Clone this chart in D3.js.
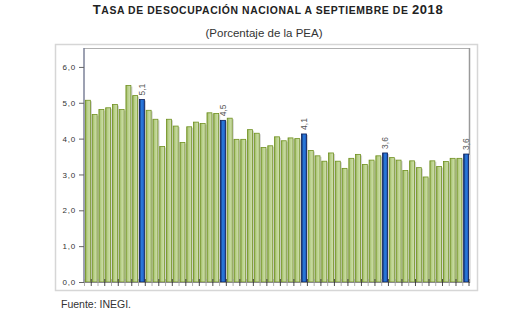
<!DOCTYPE html>
<html><head><meta charset="utf-8">
<script src="https://cdn.jsdelivr.net/npm/d3@7"></script>
<style>body{margin:0;background:#fff}svg{display:block}</style>
</head><body>
<svg id="c" width="512" height="324"></svg>
<script>
const monthNames = ["ene","feb","mar","abr","may","jun","jul","ago","sep","oct","nov","dic"];
const years = ["14","15","16","17","18"];
const categories = [];
years.forEach(y => monthNames.forEach(m => categories.push(m + "-" + y)));
categories.splice(57);
const values = [5.07,4.67,4.81,4.86,4.95,4.81,5.48,5.20,5.09,4.79,4.54,
  3.78,4.54,4.35,3.89,4.33,4.46,4.42,4.72,4.70,4.51,
  4.57,3.98,3.98,4.25,4.15,3.75,3.80,4.05,3.94,4.02,4.00,4.13,
  3.67,3.52,3.37,3.60,3.37,3.17,3.45,3.56,3.28,3.40,3.52,3.60,
  3.47,3.40,3.11,3.38,3.19,2.93,3.38,3.22,3.36,3.45,3.45,3.57];
const yTicks = [0,1,2,3,4,5,6];
const highlightMonth = "sep";

const svg = d3.select("#c");
const defs = svg.append("defs");
const gG = defs.append("linearGradient").attr("id","gGreen");
[["0%","#8eab4c"],["35%","#b7cf87"],["100%","#d2e1b2"]].forEach(s=>gG.append("stop").attr("offset",s[0]).attr("stop-color",s[1]));
const gB = defs.append("linearGradient").attr("id","gBlue");
[["0%","#0c2b6c"],["45%","#2c7fe2"],["100%","#1b56b8"]].forEach(s=>gB.append("stop").attr("offset",s[0]).attr("stop-color",s[1]));

// outer box
svg.append("rect").attr("x",55.5).attr("y",44.5).attr("width",422).attr("height",246)
  .attr("fill","#fff").attr("stroke","#d6d6d6").attr("stroke-width",1.5);

const x = d3.scaleBand().domain(categories).range([85,469]).paddingInner(0.15).paddingOuter(0);
const y = d3.scaleLinear().domain([0,6.5]).range([282,49]);

// plot frame top/right
svg.append("line").attr("x1",84).attr("x2",470).attr("y1",48.5).attr("y2",48.5).attr("stroke","#b0b0b0").attr("stroke-width",1);
svg.append("line").attr("x1",469.5).attr("x2",469.5).attr("y1",48).attr("y2",283).attr("stroke","#9a9a9a").attr("stroke-width",1.5);

const isHi = c => c.startsWith(highlightMonth);

// shadows
svg.append("g").selectAll("rect").data(categories).join("rect")
  .attr("x",c=>x(c)+1.2).attr("y",(c,i)=>y(values[i])+1)
  .attr("width",x.bandwidth()).attr("height",(c,i)=>y(0)-y(values[i])-1)
  .attr("fill","#d4d4d4");

// bars
svg.append("g").selectAll("rect").data(categories).join("rect")
  .attr("x",c=>x(c)+0.4).attr("y",(c,i)=>y(values[i]))
  .attr("width",x.bandwidth()-0.8).attr("height",(c,i)=>y(0)-y(values[i]))
  .attr("fill",c=>isHi(c)?"url(#gBlue)":"url(#gGreen)")
  .attr("stroke",c=>isHi(c)?"#0a1f5a":"#6f901f").attr("stroke-width",0.8);

// value labels
svg.append("g").selectAll("text").data(categories.filter(isHi)).join("text")
  .attr("transform",c=>{const i=categories.indexOf(c);return `translate(${x(c)+x.bandwidth()/2+3},${y(values[i])-4}) rotate(-90)`;})
  .attr("font-family","Liberation Sans, Arial, sans-serif").attr("font-size",8.5).attr("fill","#555")
  .text(c=>values[categories.indexOf(c)].toFixed(1).replace(".",","));

// y axis
const yAxis = d3.axisLeft(y).tickValues(yTicks).tickSize(5).tickPadding(3)
  .tickFormat(d=>d.toFixed(1).replace(".",","));
const ga = svg.append("g").attr("transform","translate(84,0)").call(yAxis);
ga.select(".domain").attr("stroke","#7c8299").attr("stroke-width",1.5).attr("d","M0,48V282");
ga.selectAll(".tick line").attr("stroke","#666");
ga.selectAll(".tick text").attr("font-family","Liberation Sans, Arial, sans-serif").attr("font-size",8)
  .attr("letter-spacing","0.8px").attr("fill","#333");

// x axis base and ticks
svg.append("line").attr("x1",84).attr("x2",470).attr("y1",282.5).attr("y2",282.5).attr("stroke","#8a8a8a").attr("stroke-width",1);
const bounds = categories.map(c=>x(c)-x.step()*x.paddingInner()/2).concat([469]);
svg.append("g").selectAll("line").data(bounds).join("line")
  .attr("x1",d=>d).attr("x2",d=>d).attr("y1",279).attr("y2",286)
  .attr("stroke",(d,i)=>i%2?"#222":"#999").attr("stroke-width",0.8);

// title
const t = svg.append("text").attr("x",268).attr("y",14).attr("text-anchor","middle")
  .attr("font-family","Liberation Sans, Arial, sans-serif").attr("font-weight","bold").attr("fill","#222")
  .attr("letter-spacing","0.6px");
t.append("tspan").attr("font-size",13).text("T");
t.append("tspan").attr("font-size",10.4).text("ASA DE DESOCUPACIÓN NACIONAL A SEPTIEMBRE DE ");
t.append("tspan").attr("font-size",13).text("2018");

svg.append("text").attr("x",264).attr("y",37).attr("text-anchor","middle")
  .attr("font-family","Liberation Sans, Arial, sans-serif").attr("font-size",11.5).attr("fill","#333")
  .text("(Porcentaje de la PEA)");

svg.append("text").attr("x",61).attr("y",308)
  .attr("font-family","Liberation Sans, Arial, sans-serif").attr("font-size",10.5).attr("fill","#333")
  .text("Fuente: INEGI.");
</script>
</body></html>
